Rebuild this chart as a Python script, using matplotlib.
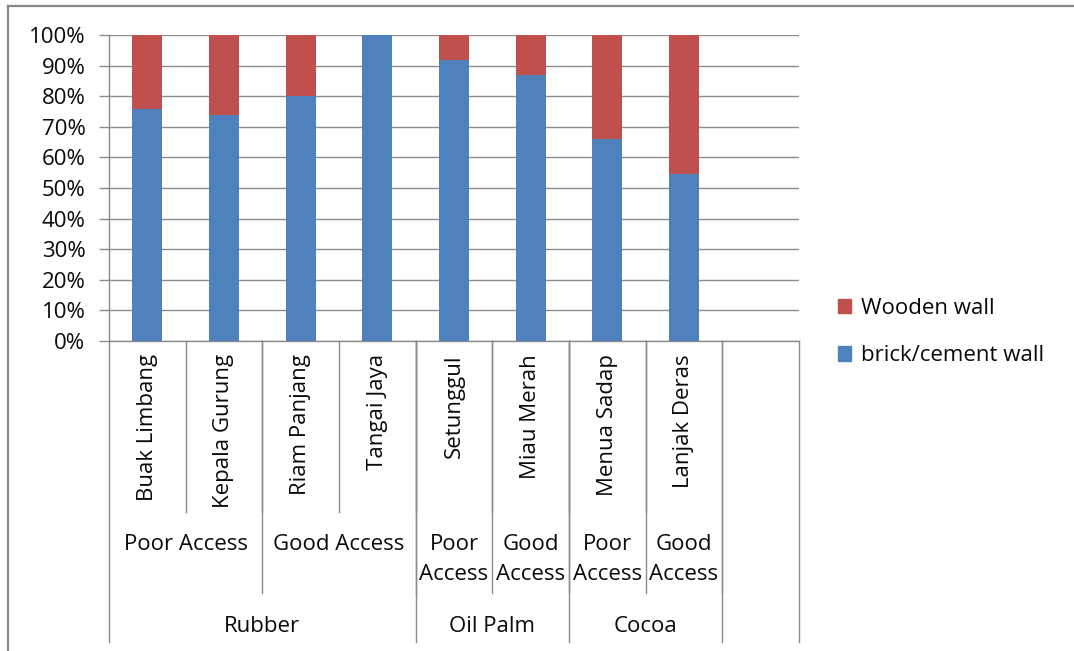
import matplotlib
matplotlib.use('Agg')
import matplotlib.pyplot as plt
from matplotlib.lines import Line2D
from matplotlib.patches import Patch

plt.rcParams['font.family'] = ['Open Sans', 'DejaVu Sans']

villages = ['Buak Limbang', 'Kepala Gurung', 'Riam Panjang', 'Tangai Jaya',
            'Setunggul', 'Miau Merah', 'Menua Sadap', 'Lanjak Deras']
brick = [75.8, 73.9, 80.2, 100.0, 91.8, 86.9, 65.9, 54.7]
wooden = [24.2, 26.1, 19.8, 0.0, 8.2, 13.1, 34.1, 45.3]
access_groups = ['Poor Access', 'Good Access', 'Poor\nAccess', 'Good\nAccess',
                 'Poor\nAccess', 'Good\nAccess']
access_sizes = [2, 2, 1, 1, 1, 1]
crops = ['Rubber', 'Oil Palm', 'Cocoa']
crop_sizes = [4, 2, 2]
n_slots = 9  # excel left one empty category at the end

blue = '#4F81BD'
red = '#C0504D'
grey = '#8C8C8C'
txt = '#0A0A0A'
fs = 16
W, H = 1074, 651

fig = plt.figure(figsize=(W / 100, H / 100), dpi=100)
ax = fig.add_axes([109 / W, 1 - 341 / H, 690 / W, 306 / H])

x = list(range(len(villages)))
ax.bar(x, brick, width=0.39, color=blue, label='brick/cement wall', zorder=3)
ax.bar(x, wooden, width=0.39, bottom=brick, color=red, label='Wooden wall', zorder=3)

ax.set_xlim(-0.5, n_slots - 0.5)
ax.set_ylim(0, 100)
ax.set_yticks(range(0, 101, 10))
ax.set_yticklabels([f'{v}%' for v in range(0, 101, 10)], fontsize=fs, color=txt)
ax.yaxis.grid(True, color=grey, linewidth=1.0, zorder=0)
ax.tick_params(axis='y', length=7, width=1.0, color=grey, pad=10)
ax.set_xticks([])
for s in ['top', 'right']:
    ax.spines[s].set_visible(False)
for s in ['left', 'bottom']:
    ax.spines[s].set_color(grey)
    ax.spines[s].set_linewidth(1.0)

def to_ax(py):
    return (341 - py) / 306

tr = ax.get_xaxis_transform()

# level 1: village names
for i, name in enumerate(villages):
    ax.text(i, to_ax(354), name, rotation=90, ha='center', va='top',
            fontsize=fs, color=txt, transform=tr)
for i in range(1, len(villages)):
    ax.plot([i - 0.5, i - 0.5], [0, to_ax(512)], color=grey, lw=1.0,
            transform=tr, clip_on=False)

# level 2: access
start = 0
for label, size in zip(access_groups, access_sizes):
    cx = start + size / 2 - 0.5
    for k, line in enumerate(label.split('\n')):
        ax.text(cx, to_ax(544 + 31 * k), line, ha='center', va='center',
                fontsize=fs, color=txt, transform=tr)
    start += size
    ax.plot([start - 0.5, start - 0.5], [0, to_ax(593)], color=grey, lw=1.0,
            transform=tr, clip_on=False)

# level 3: crops
start = 0
ax.plot([-0.5, -0.5], [0, to_ax(642)], color=grey, lw=1.0, transform=tr, clip_on=False)
for label, size in zip(crops, crop_sizes):
    cx = start + size / 2 - 0.5
    ax.text(cx, to_ax(626), label, ha='center', va='center',
            fontsize=fs, color=txt, transform=tr)
    start += size
    ax.plot([start - 0.5, start - 0.5], [0, to_ax(642)], color=grey, lw=1.0,
            transform=tr, clip_on=False)
ax.plot([n_slots - 0.5, n_slots - 0.5], [0, to_ax(642)], color=grey, lw=1.0,
        transform=tr, clip_on=False)

handles = [Patch(color=red, label='Wooden wall'), Patch(color=blue, label='brick/cement wall')]
fig.legend(handles=handles, loc='center left', bbox_to_anchor=(818 / W, 1 - 332 / H),
           frameon=False, fontsize=fs, handlelength=0.6, handleheight=0.6,
           handletextpad=0.45, labelspacing=1.2, labelcolor=txt)

# chart area border (left and top edges visible)
fig.add_artist(Line2D([8 / W, 8 / W], [0, 1 - 6 / H], color='#888888', lw=1.6))
fig.add_artist(Line2D([8 / W, 1], [1 - 6 / H, 1 - 6 / H], color='#888888', lw=1.6))

fig.savefig('out.png', dpi=100)
